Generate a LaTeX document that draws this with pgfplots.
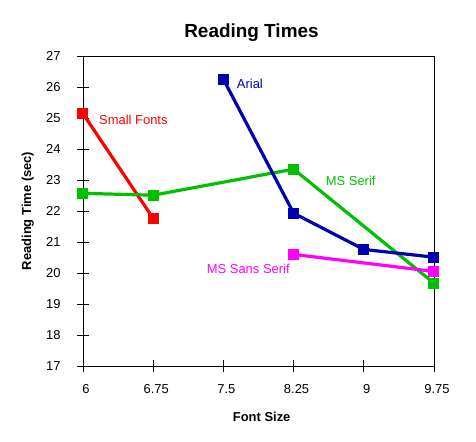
\documentclass[border=0pt]{standalone}
\usepackage{pgfplots}
\pgfplotsset{compat=1.18}
\usepackage{fontspec}
\setmainfont{Liberation Sans}
\definecolor{cred}{RGB}{255,0,0}
\definecolor{cblue}{RGB}{0,0,176}
\definecolor{cgreen}{RGB}{0,192,0}
\definecolor{cmag}{RGB}{255,0,255}
\begin{document}
\begin{tikzpicture}
\begin{axis}[
  at={(0,0)}, anchor=south west,
  scale only axis, width=351bp, height=310bp,
  xmin=0, xmax=5, ymin=17, ymax=27,
  xtick={0,1,2,3,4,5},
  xticklabels={6,6.75,7.5,8.25,9,9.75},
  ytick={17,18,...,27},
  xtick pos=bottom, ytick pos=left,
  tick align=center,
  major tick length=12bp,
  x tick label style={yshift=-9bp, xshift=3bp},
  y tick label style={xshift=-13bp},
  tick label style={font=\fontsize{13}{15}\selectfont},
  /pgf/number format/assume math mode=true,
  axis line style={line width=0.8pt},
  tick style={line width=0.8pt, black},
  title={\fontsize{19}{22}\selectfont\bfseries Reading Times},
  title style={at={(axis description cs:0.48,1.055)}, anchor=center},
  xlabel={\fontsize{13}{15}\selectfont\bfseries Font Size},
  ylabel={\fontsize{13}{15}\selectfont\bfseries Reading Time (sec)},
  xlabel style={at={(axis description cs:0.509,-0.1635)}, anchor=center},
  ylabel style={at={(axis description cs:-0.157,0.5)}, anchor=center},
  clip=false,
  every axis plot/.append style={line width=3.2bp, mark=square*, mark size=3.9bp},
]
\addplot[color=cred, mark options={fill=cred}] coordinates {(0,25.14) (1,21.76)};
\addplot[color=cgreen, mark options={fill=cgreen}] coordinates {(0,22.57) (1,22.51) (3,23.35) (5,19.67)};
\addplot[color=cblue, mark options={fill=cblue}] coordinates {(2,26.25) (3,21.93) (4,20.76) (5,20.51)};
\addplot[color=cmag, mark options={fill=cmag}] coordinates {(3,20.60) (5,20.05)};
\node[anchor=west, text=cred, font=\fontsize{13}{15}\selectfont, inner sep=0pt] at (axis cs:0.228,24.94) {Small Fonts};
\node[anchor=west, text=cblue, font=\fontsize{13}{15}\selectfont, inner sep=0pt] at (axis cs:2.19,26.1) {Arial};
\node[anchor=west, text=cgreen, font=\fontsize{13}{15}\selectfont, inner sep=0pt] at (axis cs:3.457,22.97) {MS Serif};
\node[anchor=west, text=cmag, font=\fontsize{13}{15}\selectfont, inner sep=0pt] at (axis cs:1.762,20.13) {MS Sans Serif};
\end{axis}
\pgfresetboundingbox
\path (-83bp,-76bp) rectangle (393bp,366bp);
\end{tikzpicture}
\end{document}
